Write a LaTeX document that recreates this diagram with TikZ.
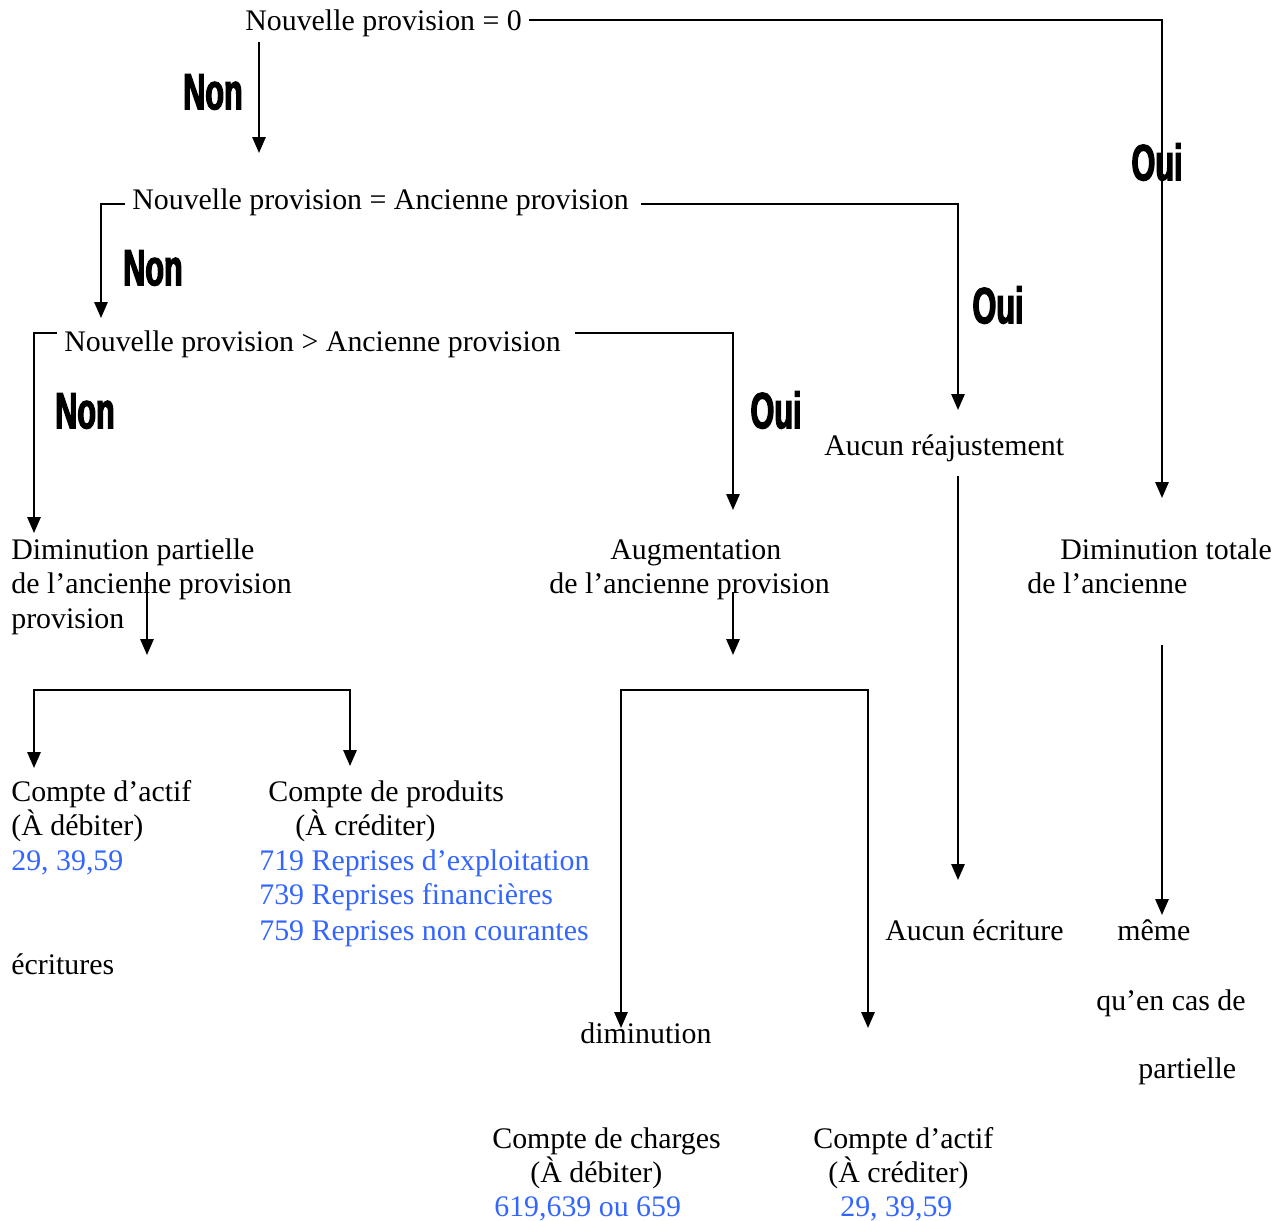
\documentclass[tikz,border=0pt]{standalone}
\usepackage{fontspec}
\setmainfont{Liberation Serif}
\newfontfamily\yesnofont{Liberation Sans}[FakeStretch=0.6,FakeBold=2.5]
\usepackage{tikz}
\usetikzlibrary{arrows.meta}
\definecolor{compte}{RGB}{51,102,255}

\begin{document}
\begin{tikzpicture}[x=0.02cm, y=-0.02cm,
    every node/.style={inner sep=0pt, anchor=base west, font=\fontsize{17}{19.6}\selectfont},
    yn/.style={anchor=center, font=\yesnofont\bfseries\fontsize{29}{29}\selectfont},
    acct/.style={text=compte},
    >={Triangle[length=9pt,width=7.5pt]},
    flow/.style={->, line width=1.1pt}
]
    \useasboundingbox (0,0) rectangle (1277,1220);

    % questions
    \node (q0) at (245,31) {Nouvelle provision = 0};
    \node (q1) at (132,209) {Nouvelle provision = Ancienne provision};
    \node (q2) at (64,351) {Nouvelle provision > Ancienne provision};

    % answers
    \node (aucun) at (824,455) {Aucun réajustement};
    \node (dp1) at (11,559) {Diminution partielle};
    \node (dp2) at (11,593) {de l’ancienne provision};
    \node (dp3) at (11,628) {provision};
    \node (aug1) at (610,559) {Augmentation};
    \node (aug2) at (549,593) {de l’ancienne provision};
    \node (dt1) at (1060,559) {Diminution totale};
    \node (dt2) at (1027,593) {de l’ancienne};

    % comptes
    \node (ca1) at (11,801) {Compte d’actif};
    \node (ca2) at (11,835) {(À débiter)};
    \node[acct] (ca3) at (11,870) {29, 39,59};
    \node (ecr) at (11,974) {écritures};
    \node (cp1) at (268,801) {Compte de produits};
    \node (cp2) at (295,835) {(À créditer)};
    \node[acct] (cp3) at (259,870) {719 Reprises d’exploitation};
    \node[acct] (cp4) at (259,904) {739 Reprises financières};
    \node[acct] (cp5) at (259,940) {759 Reprises non courantes};
    \node (ae) at (885,940) {Aucun écriture};
    \node (meme) at (1117,940) {même};
    \node (qucas) at (1096,1010) {qu’en cas de};
    \node (part) at (1138,1078) {partielle};
    \node (dim) at (580,1043) {diminution};
    \node (ch1) at (492,1148) {Compte de charges};
    \node (ch2) at (530,1182) {(À débiter)};
    \node[acct] (ch3) at (494,1216) {619,639 ou 659};
    \node (cc1) at (813,1148) {Compte d’actif};
    \node (cc2) at (828,1182) {(À créditer)};
    \node[acct] (cc3) at (840,1216) {29, 39,59};

    \foreach \txt/\x/\y [count=\k] in {Non/213/92, Non/153/268, Non/85/411,
                                      Oui/1157/162, Oui/998/305, Oui/776/410}
        \node[yn] (lab\k) at (\x,\y) {\txt};

    % free ends
    \coordinate (s1) at (259,42);   \coordinate (e1) at (259,153);
    \coordinate (t0) at (1162,498);
    \coordinate (t1) at (101,318);
    \coordinate (t2) at (958,410);
    \coordinate (t3) at (34,533);
    \coordinate (t4) at (733,510);
    \coordinate (s7) at (958,476);  \coordinate (e7) at (958,880);
    \coordinate (s8) at (1162,645); \coordinate (e8) at (1162,915);
    \coordinate (s9) at (147,572);  \coordinate (e9) at (147,655);
    \coordinate (s11) at (733,592); \coordinate (e11) at (733,655);
    \coordinate (split1) at (192,690);
    \coordinate (pl) at (34,768);   \coordinate (pr) at (350,766);
    \coordinate (split2) at (744,690);
    \coordinate (ql) at (621,1028); \coordinate (qr) at (868,1028);

    \draw[flow] (s1) -- (e1);
    \draw[flow, shorten <=4pt] ([yshift=2.3pt]q0.east) -| (t0);
    \draw[flow, shorten <=4pt] ([yshift=-1.1pt]q1.west) -| (t1);
    \draw[flow, shorten <=7pt] ([yshift=-1.1pt]q1.east) -| (t2);
    \draw[flow, shorten <=4pt] ([yshift=6.2pt]q2.west) -| (t3);
    \draw[flow, shorten <=8pt] ([yshift=6.2pt]q2.east) -| (t4);
    \draw[flow] (s7) -- (e7);
    \draw[flow] (s8) -- (e8);
    \draw[flow] (s9) -- (e9);
    \draw[flow] (s11) -- (e11);
    \draw[flow] (split1) -| (pl);
    \draw[flow] (split1) -| (pr);
    \draw[flow] (split2) -| (ql);
    \draw[flow] (split2) -| (qr);
\end{tikzpicture}
\end{document}
